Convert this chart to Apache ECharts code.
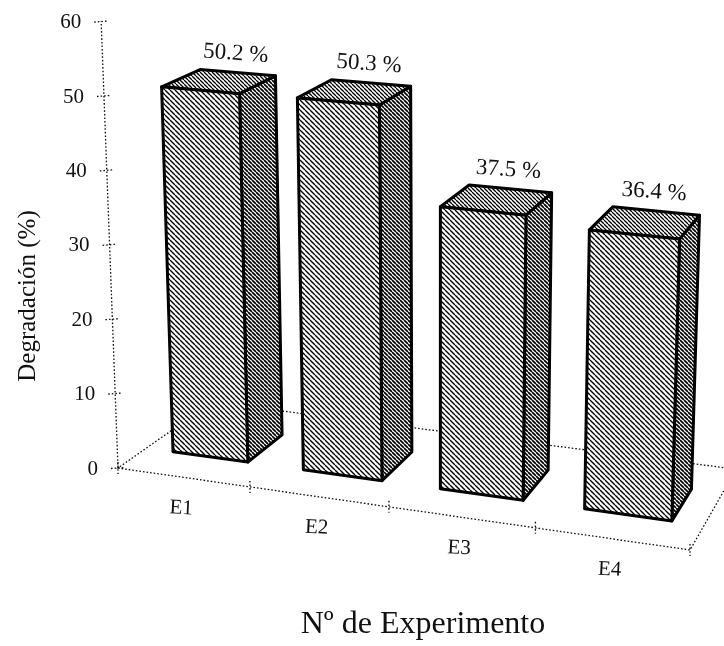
<!DOCTYPE html>
<html>
<head>
<meta charset="utf-8">
<style>html,body{margin:0;padding:0;background:#fff}#c{width:724px;height:646px}</style>
<script src="https://cdn.jsdelivr.net/npm/echarts@6/dist/echarts.min.js"></script>
</head>
<body>
<div id="c"></div>
<script>
var categories = ['E1', 'E2', 'E3', 'E4'];
var degradation = [50.2, 50.3, 37.5, 36.4];
var yTicks = [0, 10, 20, 30, 40, 50, 60];
var yTitle = 'Degradación (%)';
var xTitle = 'Nº de Experimento';

var FONT = '"Liberation Serif","Times New Roman",serif';
var INK = '#111';

// Oblique projection of the chart's box: u along the experiments, w into depth, h = value.
function ground(u, w) {
  var d = 1 - 0.1 * u + 0.1 * w;
  return [(118 + 503 * u + 115.2 * w) / d, (468 + 27 * u - 25.8 * w) / d];
}
function lift(g, h, s) {
  var scale = s || (7.27 + (g[1] - 452) * 0.0069);
  var px = h * scale;
  var dir = (g[0] - 440) / (9000 - g[1]);
  return [g[0] + dir * px, g[1] - px];
}
function hatch(size, lw, bg) {
  var c = document.createElement('canvas');
  c.width = c.height = size;
  var x = c.getContext('2d');
  x.fillStyle = bg; x.fillRect(0, 0, size, size);
  x.strokeStyle = '#000'; x.lineWidth = lw;
  [-size, 0, size].forEach(function (o) {
    x.beginPath(); x.moveTo(o, 0); x.lineTo(o + size, size); x.stroke();
  });
  return { image: c, repeat: 'repeat' };
}
var frontFill = hatch(5, 1.35, '#fff');
var topFill = hatch(4, 1.3, '#fff');
var sideFill = hatch(4, 1.7, '#fff');

function dotted(points, closed) {
  return {
    type: closed ? 'polygon' : 'polyline',
    shape: { points: points },
    style: { fill: 'none', stroke: '#111', lineWidth: 1.3, lineDash: [1.6, 2] }
  };
}
function norm(api, params, cat, val) {
  var p = api.coord([cat, val]);
  var cs = params.coordSys;
  return { u: (p[0] - cs.x) / cs.width, h: 60 * (cs.y + cs.height - p[1]) / cs.height, band: api.size([1, 0])[0] / cs.width };
}

var chart = echarts.init(document.getElementById('c'), null, { renderer: 'canvas' });
chart.setOption({
  animation: false,
  backgroundColor: '#fff',
  grid: { left: 0, right: 0, top: 0, bottom: 0 },
  xAxis: { type: 'category', data: categories, show: false },
  yAxis: { type: 'value', min: 0, max: 60, interval: 10, show: false },
  graphic: [
    { type: 'text', x: 28, y: 296, rotation: Math.PI / 2, z: 10,
      style: { text: yTitle, font: '25px ' + FONT, fill: INK, align: 'center', verticalAlign: 'middle' } },
    { type: 'text', x: 423, y: 625, z: 10,
      style: { text: xTitle, font: '32px ' + FONT, fill: INK, align: 'center', verticalAlign: 'middle' } }
  ],
  series: [
    { // floor outline, category ticks and labels
      type: 'custom', z: 1, silent: true,
      data: categories.map(function (c, i) { return [i, 0]; }),
      renderItem: function (params, api) {
        var n = norm(api, params, api.value(0), 0);
        var kids = [];
        if (params.dataIndex === 0) {
          kids.push(dotted([ground(0, 0), ground(1, 0), ground(1, 1), ground(0, 1)], true));
          kids.push(dotted([[ground(0, 0)[0], ground(0, 0)[1] - 6], [ground(0, 0)[0], ground(0, 0)[1] + 6]]));
        }
        var e = ground(n.u + n.band / 2, 0);
        kids.push(dotted([[e[0], e[1] - 6], [e[0], e[1] + 6]]));
        var m = ground(n.u, 0);
        kids.push({ type: 'text', x: m[0] - 2, y: m[1] + 31, rotation: -0.05,
          style: { text: categories[params.dataIndex], font: '21px ' + FONT, fill: INK, align: 'center', verticalAlign: 'middle' } });
        return { type: 'group', children: kids };
      }
    },
    { // value axis with its ticks and labels
      type: 'custom', z: 1, silent: true,
      data: yTicks.map(function (t) { return [0, t]; }),
      renderItem: function (params, api) {
        var n = norm(api, params, 0, api.value(1));
        var base = ground(0, 0);
        var p = lift(base, n.h, 7.44);
        var kids = [
          dotted([[p[0] - 7, p[1] + 0.5], [p[0] + 6, p[1] - 0.5]]),
          { type: 'text', x: p[0] - 20, y: p[1] + 1,
            style: { text: String(yTicks[params.dataIndex]), font: '21px ' + FONT, fill: INK, align: 'right', verticalAlign: 'middle' } }
        ];
        if (params.dataIndex === 0) kids.push(dotted([base, lift(base, 60, 7.44)]));
        return { type: 'group', children: kids };
      }
    },
    { // the boxes
      type: 'custom', z: 2, silent: true,
      data: degradation.map(function (v, i) { return [i, v]; }),
      renderItem: function (params, api) {
        var n = norm(api, params, api.value(0), api.value(1));
        var u0 = n.u - n.band * 0.29, u1 = n.u + n.band * 0.29, w0 = 0.283, w1 = 0.68;
        var fl = ground(u0, w0), fr = ground(u1, w0), br = ground(u1, w1), bl = ground(u0, w1);
        var tfl = lift(fl, n.h), tfr = lift(fr, n.h), tbr = lift(br, n.h), tbl = lift(bl, n.h);
        function face(pts, fill) {
          return { type: 'polygon', shape: { points: pts },
            style: { fill: fill, stroke: '#000', lineWidth: 3, lineJoin: 'round' } };
        }
        return { type: 'group', children: [
          face([fr, br, tbr, tfr], sideFill),
          face([tfl, tfr, tbr, tbl], topFill),
          face([fl, fr, tfr, tfl], frontFill),
          { type: 'text', x: (tbl[0] + tbr[0]) / 2 - 2, y: (tbl[1] + tbr[1]) / 2 - 19, rotation: -0.07,
            style: { text: degradation[params.dataIndex].toFixed(1) + ' %', font: '23px ' + FONT, fill: INK, align: 'center', verticalAlign: 'middle' } }
        ] };
      }
    }
  ]
});
</script>
</body>
</html>
